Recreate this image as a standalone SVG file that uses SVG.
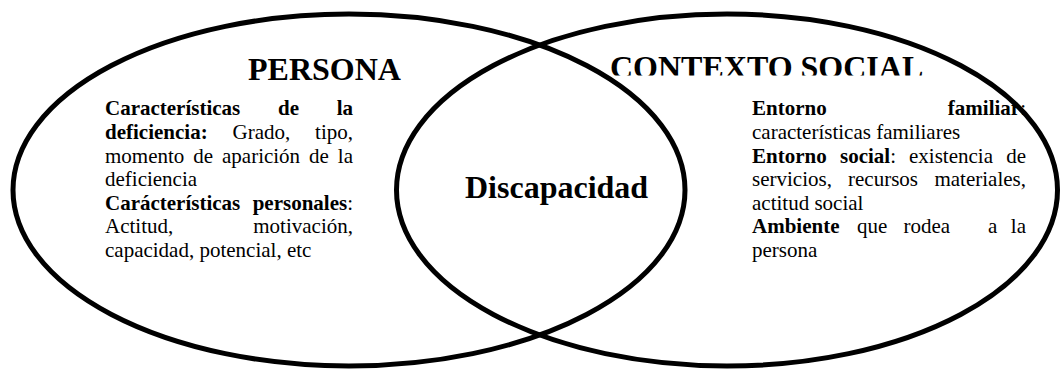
<svg xmlns="http://www.w3.org/2000/svg" width="1061" height="372" viewBox="0 0 1061 372">
<style>
  text { font-family: "Liberation Serif", "Times New Roman", serif; font-size: 21px; fill: #000; }
  .b { font-weight: bold; }
  .title { font-weight: bold; font-size: 32px; }
  .ring { fill: none; stroke: #000; stroke-width: 5; }
</style>
<defs>
  <clipPath id="ctxClip"><rect x="560" y="0" width="420" height="75.5"/></clipPath>
</defs>
<rect x="0" y="0" width="1061" height="372" fill="#fff"/>
<g id="persona">
  <ellipse class="ring" cx="349" cy="190" rx="336" ry="176"/>
  <text class="title" x="324.5" y="79.5" text-anchor="middle">PERSONA</text>
  <text class="b" x="105" y="115.4">Características</text>
  <text class="b" x="278" y="115.4">de</text>
  <text class="b" x="353" y="115.4" text-anchor="end">la</text>
  <text class="b" x="105" y="139">deficiencia:</text>
  <text x="232.5" y="139">Grado,</text>
  <text x="353" y="139" text-anchor="end">tipo,</text>
  <text x="105" y="162.6">momento</text>
  <text x="193.3" y="162.6">de</text>
  <text x="222" y="162.6">aparición</text>
  <text x="309" y="162.6">de</text>
  <text x="353" y="162.6" text-anchor="end">la</text>
  <text x="105" y="186.2">deficiencia</text>
  <text class="b" x="105" y="209.8">Carácterísticas</text>
  <text x="353" y="209.8" text-anchor="end"><tspan class="b">personales</tspan>:</text>
  <text x="105" y="233.4">Actitud,</text>
  <text x="353" y="233.4" text-anchor="end">motivación,</text>
  <text x="105" y="257">capacidad, potencial, etc</text>
</g>
<g id="contexto-social">
  <ellipse class="ring" cx="727" cy="190" rx="330.5" ry="176"/>
  <text class="title" x="610" y="77.5" clip-path="url(#ctxClip)">CONTEXTO SOCIAL</text>
  <text class="b" x="752" y="115.4">Entorno</text>
  <text x="1026" y="115.4" text-anchor="end"><tspan class="b">familiar</tspan>:</text>
  <text x="752" y="139">características familiares</text>
  <text class="b" x="752" y="162.6">Entorno</text>
  <text x="840" y="162.6"><tspan class="b">social</tspan>:</text>
  <text x="909" y="162.6">existencia</text>
  <text x="1026" y="162.6" text-anchor="end">de</text>
  <text x="752" y="186.2">servicios,</text>
  <text x="848" y="186.2">recursos</text>
  <text x="1026" y="186.2" text-anchor="end">materiales,</text>
  <text x="752" y="209.8">actitud social</text>
  <text class="b" x="752" y="233.4">Ambiente</text>
  <text x="857" y="233.4">que</text>
  <text x="903.5" y="233.4">rodea</text>
  <text x="988" y="233.4">a</text>
  <text x="1026" y="233.4" text-anchor="end">la</text>
  <text x="752" y="257">persona</text>
</g>
<g id="discapacidad">
  <text class="title" x="465" y="198">Discapacidad</text>
</g>
<g id="connectors"/>
</svg>
